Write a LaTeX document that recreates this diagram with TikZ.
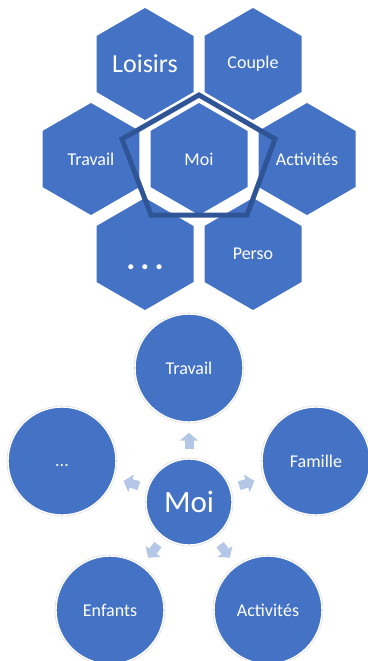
\documentclass[tikz,border=0pt]{standalone}
\usepackage{fontspec}
\setmainfont{Carlito}
\usepackage{tikz}
\usetikzlibrary{shapes.geometric, arrows.meta}

\definecolor{hexblue}{HTML}{4472C4}
\definecolor{pentablue}{HTML}{2F5597}
\definecolor{arrowblue}{HTML}{B4C7E7}

\begin{document}
\begin{tikzpicture}[x=1pt, y=1pt,
		hexa/.style={regular polygon, regular polygon sides=6, shape border rotate=30, minimum size=112pt, inner sep=0pt, fill=hexblue, text=white, font=\fontsize{18}{20}\selectfont},
		bubble/.style={circle, minimum size=108pt, inner sep=0pt, fill=hexblue, draw=white, line width=1.4pt, preaction={draw=black!14, line width=2.6pt}, text=white, font=\fontsize{18}{20}\selectfont},
		flow/.style={draw=arrowblue, line width=9pt, -{Triangle[width=18pt, length=8pt]}, shorten <=9pt, shorten >=10pt}]
		\useasboundingbox (0,0) rectangle (367,-661);

		% Hexagons
		\node[hexa, font=\fontsize{26}{28}\selectfont] (loisirs) at (145,-64) {Loisirs};
		\node[hexa] (couple) at (253,-64) {Couple};
		\node[hexa] (travail) at (91,-159) {Travail};
		\node[hexa] (moi) at (199,-159) {Moi};
		\node[hexa] (activites) at (307,-159) {Activités};
		\node[hexa, font=\fontsize{34}{34}\bfseries, text height=30pt, text depth=0pt] (autres) at (145,-254) {.\kern5pt.\kern5pt.};
		\node[hexa] (perso) at (253,-254) {Perso};

		% Pentagon round Moi
		\draw[pentablue, line width=5pt, line join=miter, shift={(moi.center)}] (0,64) -- (76,20) -- (48,-56) -- (-48,-56) -- (-77,20) -- cycle;

		% Circles
		\node[bubble, minimum size=86pt, font=\fontsize{31}{33}\selectfont] (centre) at (189,-502) {Moi};
		\node[bubble] (ctravail) at (189,-368) {Travail};
		\node[bubble] (famille) at (316,-461) {Famille};
		\node[bubble] (cactivites) at (268,-610) {Activités};
		\node[bubble] (enfants) at (110,-610) {Enfants};
		\node[bubble, text height=10pt, text depth=0pt] (cautres) at (62,-461) {...};

		% Arrows from Moi
		\draw[flow] (centre) -- (ctravail);
		\draw[flow] (centre) -- (famille);
		\draw[flow] (centre) -- (cactivites);
		\draw[flow] (centre) -- (enfants);
		\draw[flow] (centre) -- (cautres);
	\end{tikzpicture}
\end{document}
